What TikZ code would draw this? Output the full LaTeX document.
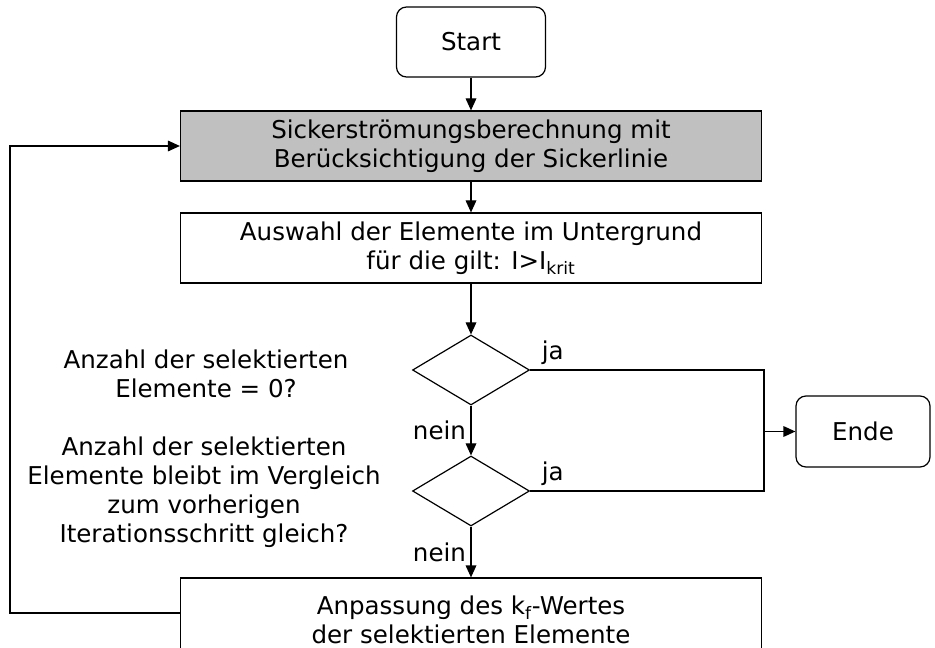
\documentclass[tikz,border=0pt]{standalone}
\usepackage{fontspec}
\setmainfont{DejaVu Sans}
\usetikzlibrary{shapes.geometric,arrows.meta}

\definecolor{boxgrau}{RGB}{192,192,192}

\tikzset{
  box/.style={draw, minimum width=435.75pt, minimum height=52.5pt, align=center, inner sep=0pt},
  rund/.style={draw, rounded corners=7.5pt, minimum width=111.75pt, minimum height=52.5pt},
  raute/.style={draw, diamond, minimum width=87.75pt, minimum height=52.5pt, inner sep=0pt},
  pfeil/.style={-{Triangle[length=9pt,width=8pt]}},
  jalabel/.style={anchor=south west, xshift=5pt}
}

\begin{document}
\begin{tikzpicture}[x=0.75pt, y=-0.75pt, line width=0.9pt,
  font=\fontsize{18.4}{21.75}\selectfont]
\useasboundingbox (0,0) rectangle (935,648);

   \node[rund] at (471,42) (start) {Start};
   \node[box, fill=boxgrau] at (471,146) (sicker) {Sickerströmungsberechnung mit\\Berücksichtigung der Sickerlinie};
   \node[box] at (471,248) (auswahl) {Auswahl der Elemente im Untergrund\\für die gilt: I>I\textsubscript{krit}};
   \node[raute] at (471,370) (frage1) {};
   \node[raute] at (471,491) (frage2) {};
   \node[box, minimum height=63pt] at (471,620) (anpass) {Anpassung des k\textsubscript{f}-Wertes\\der selektierten Elemente};
   \node[rund, minimum width=100.5pt, minimum height=53.25pt] at (863,431.5) (ende) {Ende};

   \node[align=center] at (206,374) (text1) {Anzahl der selektierten\\Elemente = 0?};
   \node[align=center] at (204,492) (text2) {Anzahl der selektierten\\Elemente bleibt im Vergleich\\zum vorherigen\\Iterationsschritt gleich?};

   \coordinate (knick) at (764,431.5);
   \coordinate (links) at (10,613);

    \draw[pfeil] (start) -- (sicker);
    \draw[pfeil] (sicker) -- (auswahl);
    \draw[pfeil] (auswahl) -- (frage1);
    \draw[pfeil] (frage1) -- node[left] {nein} (frage2);
    \draw[pfeil] (frage2) -- node[left] {nein} (anpass);

    \draw (frage1.east) node[jalabel] {ja} -| (knick);
    \draw (frage2.east) node[jalabel] {ja} -| (knick);
    \draw[pfeil] (knick) -- (ende);

    \draw[pfeil] (anpass.west |- links) -- (links) |- (sicker);

\end{tikzpicture}
\end{document}
